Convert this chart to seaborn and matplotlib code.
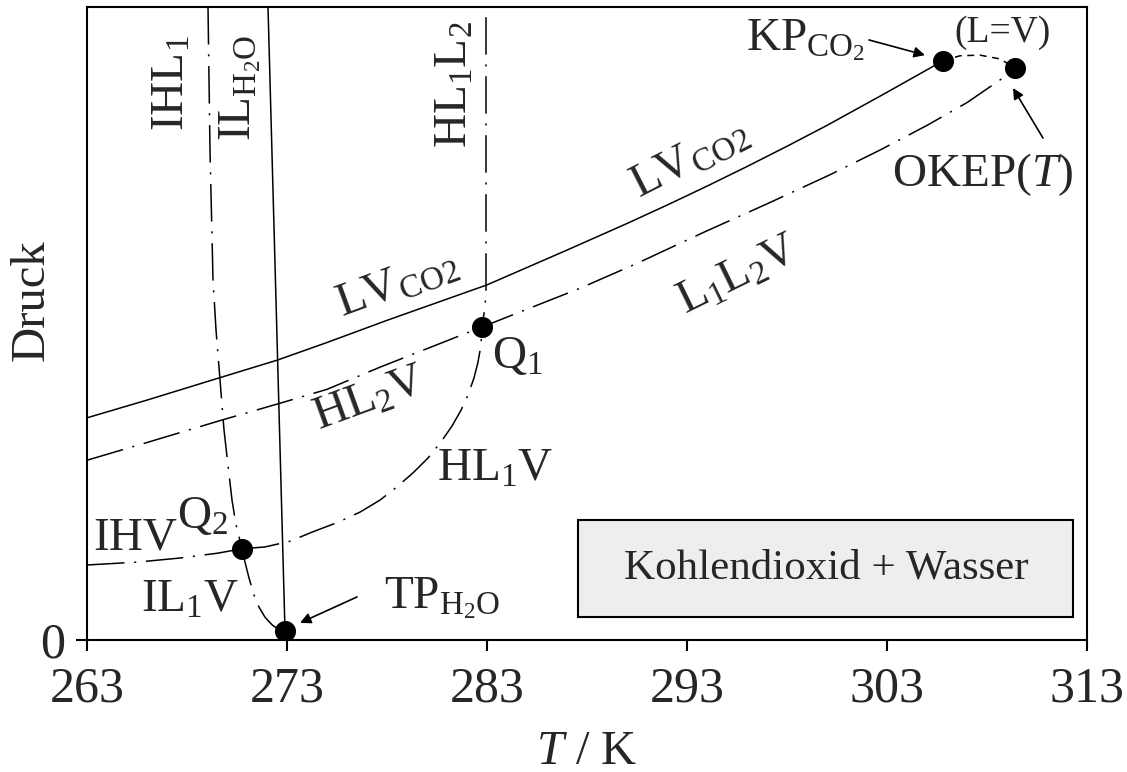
import numpy as np
import pandas as pd
import matplotlib
matplotlib.use("Agg")
import matplotlib.pyplot as plt
from matplotlib.patches import Rectangle
import seaborn as sns

# ---------------- data (T in K, pressure in arbitrary units) ----------------
lv_co2_T = [263.0, 266.0, 269.6, 272.5, 275.0, 278.0, 283.0, 287.0, 290.0, 292.0, 294.0, 296.0, 298.0, 300.0, 302.7, 305.8]
lv_co2_P = [35.1, 37.9, 41.4, 44.2, 47.0, 50.5, 56.1, 61.6, 65.8, 68.7, 71.7, 74.8, 78.0, 81.3, 86.0, 91.5]

l1l2v_T = [263.0, 266.0, 269.8, 272.65, 275.0, 277.65, 282.75, 287.6, 290.5, 293.9, 297.0, 300.15, 302.65, 305.0, 307.0, 308.8]
l1l2v_P = [28.4, 31.2, 34.8, 37.4, 39.6, 43.1, 49.45, 55.5, 59.5, 64.5, 68.9, 73.5, 77.4, 81.3, 84.9, 88.8]

hl1v_T = [270.75, 271.9, 273.15, 274.3, 275.55, 276.65, 277.65, 278.5, 279.3, 280.05, 280.7, 281.25,
          281.7, 282.05, 282.35, 282.55, 282.7, 282.75]
hl1v_P = [14.4, 14.7, 15.6, 17.1, 18.6, 20.2, 22.1, 24.2, 26.4, 28.75, 31.3, 33.8,
          36.3, 38.7, 41.4, 43.9, 46.6, 49.45]

ihv_T = [263.0, 265.5, 267.65, 269.5, 270.75]
ihv_P = [11.85, 12.3, 12.95, 13.7, 14.4]

il1v_T = [270.75, 270.9, 271.1, 271.35, 271.6, 271.9, 272.25, 272.6, 272.9]
il1v_P = [14.4, 12.3, 9.8, 7.1, 5.2, 3.6, 2.4, 1.6, 1.42]

ihl1_T = [269.05, 269.15, 269.3, 269.45, 269.65, 269.85, 270.05, 270.25, 270.45, 270.75]
ihl1_P = [100.0, 77.4, 56.9, 49.0, 41.1, 33.2, 27.6, 22.1, 18.2, 14.4]

ilh2o_T = [272.05, 272.9]
ilh2o_P = [100.0, 1.42]

hl1l2_T = [282.95, 282.95, 282.9, 282.75]
hl1l2_P = [98.4, 55.3, 52.6, 49.45]

lv_crit_T = [305.8, 306.65, 307.65, 308.65, 309.4]
lv_crit_P = [91.5, 92.3, 92.4, 91.8, 90.4]

point_names = ["KP", "OKEP", "Q1", "Q2", "TP"]
point_T = [305.8, 309.4, 282.75, 270.75, 272.9]
point_P = [91.5, 90.4, 49.45, 14.4, 1.42]

x_ticks = [263, 273, 283, 293, 303, 313]
y_ticks = [0]

# ---------------- style ----------------
sns.set_theme(style="ticks")
plt.rcParams["font.family"] = ["Liberation Serif", "DejaVu Serif"]
plt.rcParams["mathtext.fontset"] = "custom"
plt.rcParams["mathtext.rm"] = "Liberation Serif"
plt.rcParams["mathtext.it"] = "Liberation Serif:italic"
plt.rcParams["mathtext.bf"] = "Liberation Serif:bold"
plt.rcParams["lines.scale_dashes"] = False

fig = plt.figure(figsize=(11.27, 7.72), dpi=100)
ax = fig.add_axes([0.0772, 0.171, 0.8873, 0.8199])

LW = 1.1
dashdot = (0, (27, 7, 1.5, 7))

def draw(T, P, ls):
    sns.lineplot(x=T, y=P, sort=False, estimator=None, color="black",
                 linewidth=LW, linestyle=ls, ax=ax)

draw(lv_co2_T, lv_co2_P, "-")
draw(ilh2o_T, ilh2o_P, "-")
draw(l1l2v_T, l1l2v_P, dashdot)
draw(hl1v_T, hl1v_P, dashdot)
draw(ihv_T, ihv_P, dashdot)
draw(il1v_T, il1v_P, dashdot)
draw(ihl1_T, ihl1_P, dashdot)
draw(hl1l2_T, hl1l2_P, dashdot)
draw(lv_crit_T, lv_crit_P, (0, (5, 4)))

pts = pd.DataFrame({"T": point_T, "P": point_P, "name": point_names})
sns.scatterplot(data=pts, x="T", y="P", color="black", s=230, edgecolor="black",
                linewidth=0, zorder=5, ax=ax)

ax.set_xlim(263, 313)
ax.set_ylim(0, 100)
ax.set_xticks(x_ticks)
ax.set_xticklabels([str(t) for t in x_ticks])
ax.set_yticks(y_ticks)
ax.set_yticklabels(["0"])
ax.tick_params(axis="both", labelsize=36, direction="out", length=8, width=1.5, color="black")
ax.tick_params(axis="x", pad=11)
ax.tick_params(axis="y", pad=8)
for s in ax.spines.values():
    s.set_visible(True)
    s.set_linewidth(1.5)
    s.set_color("black")

ax.set_xlabel(r"$T$ / K", fontsize=35, labelpad=12)
ax.set_ylabel("Druck", fontsize=35)
ax.yaxis.set_label_coords(-0.033, 0.537)

FS = 34
def lab(T, P, s, rot=0, fs=FS):
    ax.text(T, P, s, fontsize=fs, rotation=rot, ha="center", va="center",
            rotation_mode="anchor")

lab(267.25, 88.0, r"IHL$_1$", 90)
lab(270.65, 87.2, r"IL$_{\mathrm{H_2O}}$", 90)
lab(281.4, 87.7, r"HL$_1$L$_2$", 90)
lab(293.15, 75.8, r"LV$_{\mathrm{CO2}}$", 27)
lab(278.55, 56.1, r"LV$_{\mathrm{CO2}}$", 20)
lab(295.55, 57.5, r"L$_1$L$_2$V", 26)
lab(277.15, 37.9, r"HL$_2$V", 20)
lab(283.4, 26.9, r"HL$_1$V")
lab(284.5, 44.7, r"Q$_1$")
lab(268.8, 19.4, r"Q$_2$")
lab(265.4, 16.1, "IHV")
lab(268.15, 6.3, r"IL$_1$V")
lab(280.75, 6.6, r"TP$_{\mathrm{H_2O}}$")
lab(298.95, 94.8, r"KP$_{\mathrm{CO_2}}$")
lab(308.8, 95.9, "(L=V)", fs=27)
lab(307.8, 73.5, r"OKEP($T$)")

arrow = dict(arrowstyle="-|>", lw=1.2, color="black", mutation_scale=16,
             shrinkA=0, shrinkB=0)
ax.annotate("", xy=(304.9, 92.4), xytext=(302.1, 94.8), arrowprops=arrow)
ax.annotate("", xy=(273.65, 2.7), xytext=(276.5, 6.8), arrowprops=arrow)
ax.annotate("", xy=(309.3, 87.2), xytext=(310.8, 79.3), arrowprops=arrow)

ax.add_patch(Rectangle((0.491, 0.0363), 0.495, 0.153, transform=ax.transAxes,
                       facecolor="#eeeeee", edgecolor="black", linewidth=1.5, zorder=3))
ax.text(0.739, 0.1137, "Kohlendioxid + Wasser", transform=ax.transAxes,
        fontsize=31, ha="center", va="center", zorder=4)

fig.savefig("out.png", dpi=100)
